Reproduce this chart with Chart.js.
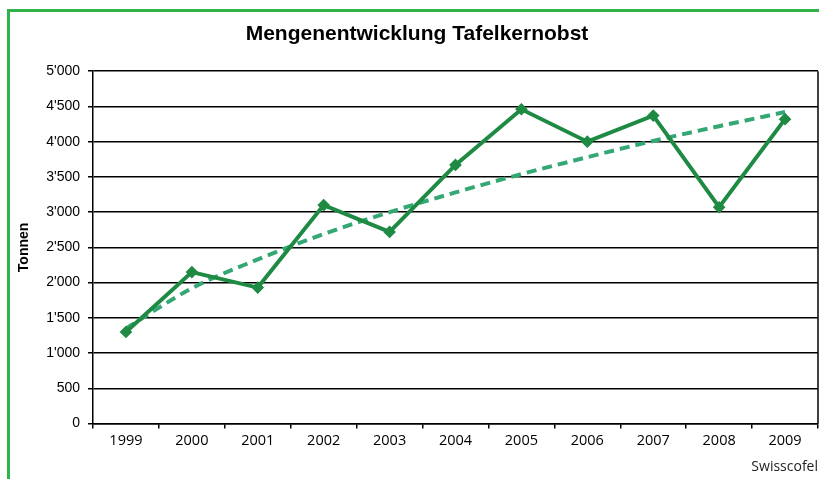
<!DOCTYPE html>
<html>
<head>
<meta charset="utf-8">
<script src="https://cdn.jsdelivr.net/npm/chart.js@4/dist/chart.umd.min.js"></script>
<style>
  html, body { margin: 0; padding: 0; background: #fff; }
  #wrap { position: relative; width: 819px; height: 479px; }
  #frame { position: absolute; left: 7px; top: 9px; right: 0; bottom: 0;
           border-left: 3px solid #2fb44b; border-top: 3px solid #2fb44b; }
  #src { position: absolute; right: 1px; top: 456px; font: 14px "Open Sans", sans-serif; color: #222; }
</style>
</head>
<body>
<div id="wrap">
  <canvas id="chart" width="819" height="479"></canvas>
  <div id="frame"></div>
  <div id="src">Swisscofel</div>
</div>
<script>
// Jahre und Mengen (Tonnen)
const years = ['1999', '2000', '2001', '2002', '2003', '2004', '2005', '2006', '2007', '2008', '2009'];
const menge = [1300, 2150, 1930, 3100, 2720, 3670, 4460, 4000, 4370, 3070, 4320];
// Trendlinie
const trend = [1350, 1920, 2330, 2690, 3000, 3280, 3540, 3780, 4010, 4220, 4420];
const yTicks = [0, 500, 1000, 1500, 2000, 2500, 3000, 3500, 4000, 4500, 5000];

// Zahlen mit Apostroph formatieren
function fmt(v) {
    return String(v).replace(/\B(?=(\d{3})+(?!\d))/g, "'");
}

// Rahmen rechts an der Plotfläche
const frameBox = {
    id: 'frameBox',
    afterDraw(chart) {
        const a = chart.chartArea;
        const ctx = chart.ctx;
        ctx.save();
        ctx.strokeStyle = '#000';
        ctx.lineWidth = 1.5;
        ctx.beginPath();
        ctx.moveTo(a.right, a.top);
        ctx.lineTo(a.right, a.bottom);
        ctx.stroke();
        ctx.restore();
    }
};

new Chart(document.getElementById('chart'), {
    type: 'line',
    data: {
        labels: years,
        datasets: [{
            label: 'Trend',
            data: trend,
            borderColor: '#34a874',
            borderWidth: 4,
            borderDash: [10, 6],
            pointRadius: 0,
            cubicInterpolationMode: 'monotone',
            fill: false,
            order: 2
        }, {
            label: 'Menge',
            data: menge,
            borderColor: '#1f8a43',
            backgroundColor: '#1f8a43',
            borderWidth: 4,
            pointStyle: 'rectRot',
            pointRadius: 3.5,
            tension: 0,
            fill: false,
            order: 1
        }]
    },
    options: {
        responsive: false,
        animation: false,
        layout: { autoPadding: false, padding: { left: 16, right: 1, top: 15, bottom: 25 } },
        plugins: {
            legend: { display: false },
            tooltip: { enabled: false },
            title: {
                display: true,
                text: 'Mengenentwicklung Tafelkernobst',
                color: '#000',
                font: { family: '"Liberation Sans Narrow", "Liberation Sans", sans-serif', size: 21, weight: 'bold' },
                padding: { top: 7, bottom: 24 }
            }
        },
        scales: {
            x: {
                offset: true,
                afterFit(scale) { scale.paddingLeft = 0; scale.paddingRight = 0; },
                grid: { offset: true, drawOnChartArea: false, color: '#000', lineWidth: 1.5, tickLength: 5 },
                border: { color: '#000', width: 1.5 },
                ticks: { color: '#000', padding: 4, font: { family: '"Open Sans", sans-serif', size: 14.5 } }
            },
            y: {
                min: 0,
                max: 5000,
                afterBuildTicks(scale) { scale.ticks = yTicks.map(v => ({ value: v })); },
                afterFit(scale) { scale.width = 77; },
                grid: { color: '#000', lineWidth: 1.5, tickLength: 5 },
                border: { color: '#000', width: 1.5 },
                ticks: { color: '#000', padding: 8, font: { family: '"Liberation Sans", Arial, sans-serif', size: 14 },
                         callback: v => fmt(v) },
                title: { display: true, text: 'Tonnen', color: '#000', padding: { top: 0, bottom: 4 },
                         font: { family: '"Liberation Sans", Arial, sans-serif', size: 14, weight: 'bold' } }
            }
        }
    },
    plugins: [frameBox]
});
</script>
</body>
</html>
